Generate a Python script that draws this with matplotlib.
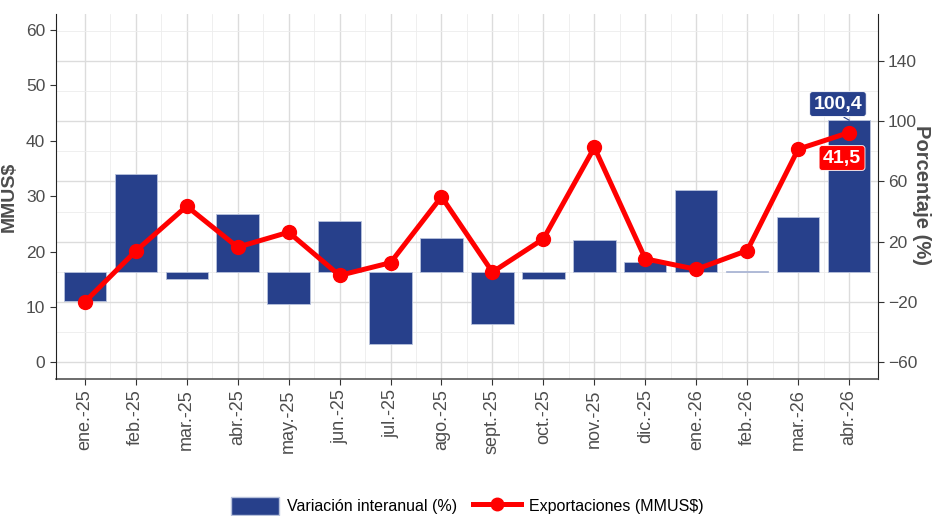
import numpy as np
import matplotlib
matplotlib.use("Agg")
import matplotlib.pyplot as plt
from matplotlib.patches import Patch
from matplotlib.lines import Line2D

# ==========================
# DATA
# ==========================
meses = ["ene.-25", "feb.-25", "mar.-25", "abr.-25", "may.-25", "jun.-25",
         "jul.-25", "ago.-25", "sept.-25", "oct.-25", "nov.-25", "dic.-25",
         "ene.-26", "feb.-26", "mar.-26", "abr.-26"]
variacion = [-19.2, 65.1, -4.6, 38.1, -21.4, 33.9, -47.7, 22.6,
             -34.6, -4.8, 21.3, 6.3, 54.0, 0.3, 36.1, 100.4]
exportaciones = [10.9, 20.1, 28.2, 20.8, 23.5, 15.7, 18.0, 29.9,
                 16.3, 22.3, 38.8, 18.7, 16.8, 20.2, 38.5, 41.5]

NAVY = "#27408B"
RED = "#FF0000"
GREY = "#4d4d4d"

plt.rcParams.update({
    "font.family": ["Liberation Sans", "DejaVu Sans"],
    "font.size": 12,
})

fig = plt.figure(figsize=(9.33, 5.16), dpi=100)
ax = fig.add_axes([55.7 / 933, 1 - 379 / 516, (877.7 - 55.7) / 933, (379 - 14) / 516])
x = np.arange(len(meses))

# bars on the percentage axis (drawn on the right)
ax.bar(x, variacion, width=0.83, color=NAVY, edgecolor="#b8c2dc", linewidth=0.6, zorder=3)
ax.set_yticks([-60, -20, 20, 60, 100, 140])
ax.set_yticks(np.arange(-80, 180, 20), minor=True)
ax.set_ylim(-71, 171)

ax.set_xticks(x)
ax.set_xticks(x[:-1] + 0.5, minor=True)
ax.set_xticklabels(meses, rotation=90, fontsize=13, color=GREY)
ax.set_xlim(-0.57, 15.56)

ax.grid(which="major", color="#dcdcdc", linewidth=1.0, zorder=0)
ax.grid(which="minor", color="#ededed", linewidth=0.6, zorder=0)
ax.set_axisbelow(True)
ax.tick_params(which="minor", length=0)
ax.spines["top"].set_visible(False)
ax.spines["left"].set_visible(False)
ax.spines["right"].set_color("#222222")
ax.spines["bottom"].set_color("#444444")
ax.spines["bottom"].set_linewidth(1.1)

# line on the MMUS$ axis (drawn on the left)
ax2 = ax.twinx()
ax2.plot(x, exportaciones, color=RED, linewidth=3.6, marker="o", markersize=10, zorder=4)
ax2.set_yticks([0, 10, 20, 30, 40, 50, 60])
ax2.set_ylim(-3.0, 62.9)
ax2.yaxis.tick_left()
ax2.yaxis.set_label_position("left")
ax2.set_ylabel("MMUS$", fontsize=14, fontweight="bold", color=GREY, labelpad=6)
ax2.tick_params(axis="y", labelsize=12.5, labelcolor=GREY, color="#333333", length=4)
ax2.spines["top"].set_visible(False)
ax2.spines["right"].set_visible(False)
ax2.spines["bottom"].set_visible(False)
ax2.spines["left"].set_color("#222222")

# twinx resets the original axis to the left, so move it back now
ax.yaxis.tick_right()
ax.tick_params(axis="y", which="major", labelsize=12.5, labelcolor=GREY,
               color="#333333", length=4, left=False, labelleft=False)
ax.tick_params(axis="x", which="major", color="#333333", length=4)
fig.text(922 / 933, 1 - 195 / 516, "Porcentaje (%)", rotation=270, ha="center",
         va="center", fontsize=14.5, fontweight="bold", color=GREY)

# value labels for the last month
ax.plot([14.9, 15.0], [102.5, 100.6], color=NAVY, linewidth=0.8, zorder=5)
ax.text(14.78, 111.3, "100,4", ha="center", va="center", fontsize=14,
        fontweight="bold", color="white", zorder=6,
        bbox=dict(boxstyle="round,pad=0.2,rounding_size=0.15", fc=NAVY, ec="white", lw=0.6))
ax2.text(14.86, 36.9, "41,5", ha="center", va="center", fontsize=14,
         fontweight="bold", color="white", zorder=6,
         bbox=dict(boxstyle="round,pad=0.2,rounding_size=0.15", fc=RED, ec="white", lw=0.6))

# legend
handles = [Patch(facecolor=NAVY, edgecolor="#b8c2dc", label="Variación interanual (%)"),
           Line2D([0], [0], color=RED, linewidth=3.6, marker="o", markersize=9,
                  label="Exportaciones (MMUS$)")]
fig.legend(handles=handles, loc="center", bbox_to_anchor=(467 / 933, 1 - 506 / 516),
           ncol=2, frameon=False, handlelength=3.0, handleheight=1.3,
           handletextpad=0.5, columnspacing=1.0, prop={"size": 11.5})

fig.savefig("out.png", dpi=100)
